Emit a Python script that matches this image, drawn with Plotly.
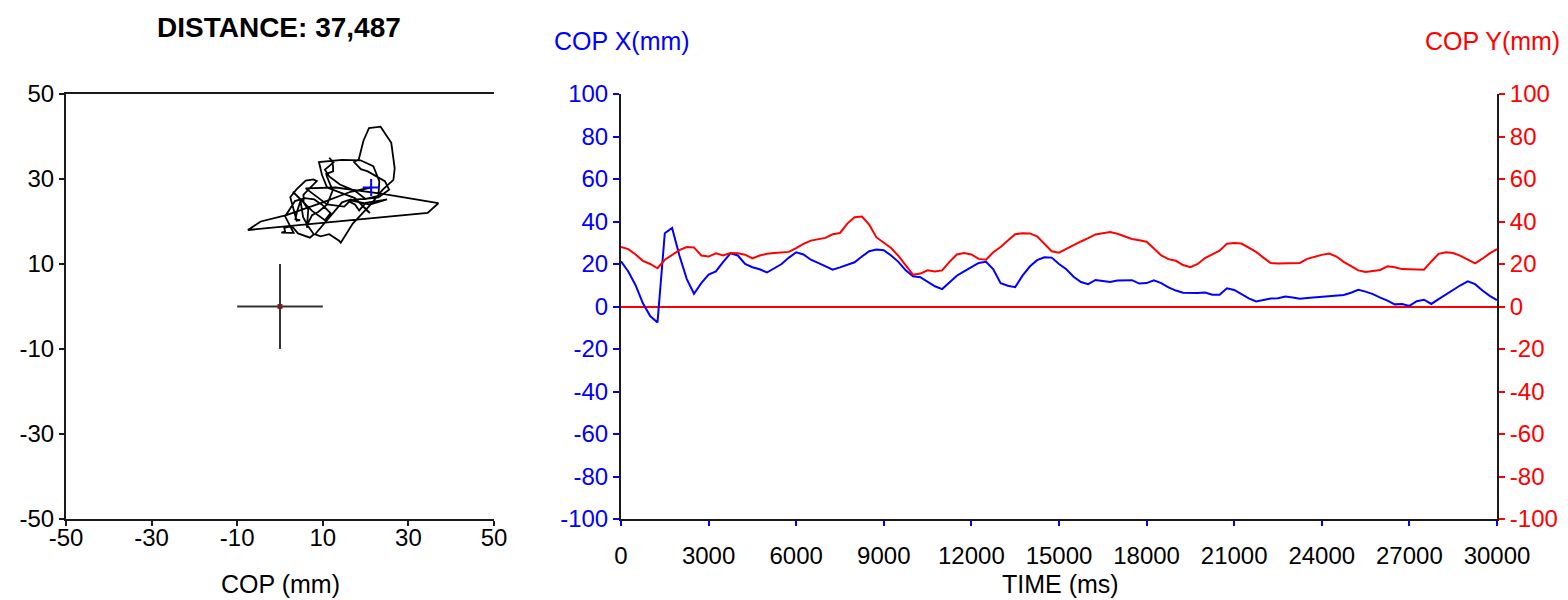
import numpy as np
import plotly.graph_objects as go

# Centre-of-pressure recording, one sample every 250 ms
time_ms = np.arange(0, 30001, 250)

cop_x_mm = [
    21.3, 16.5, 10.0, 1.5, -4.5, -7.5, 34.5, 37.0, 24.0, 13.0,
    6.0, 11.0, 15.0, 16.5, 21.0, 25.0, 24.0, 20.0, 18.5, 17.5,
    16.0, 17.8, 20.0, 23.0, 25.5, 24.5, 22.0, 20.5, 18.9, 17.3,
    18.4, 19.5, 20.8, 23.5, 26.0, 26.8, 26.5, 24.0, 21.0, 17.0,
    14.2, 13.8, 11.5, 9.5, 8.2, 11.5, 14.5, 16.5, 18.5, 20.5,
    21.0, 17.5, 11.0, 9.8, 9.1, 14.5, 18.8, 21.8, 23.2, 23.0,
    20.0, 17.5, 14.0, 11.5, 10.5, 12.5, 12.0, 11.5, 12.2, 12.4,
    12.4, 10.8, 11.0, 12.3, 11.0, 9.0, 7.5, 6.5, 6.3, 6.4,
    6.6, 5.5, 5.5, 8.6, 7.8, 6.0, 3.8, 2.4, 3.2, 3.8,
    3.9, 4.7, 4.2, 3.6, 4.0, 4.3, 4.5, 4.8, 5.0, 5.4,
    6.5, 7.9, 7.0, 5.8, 4.2, 2.8, 1.0, 1.2, 0.3, 2.5,
    3.2, 1.2, 3.5, 5.8, 8.0, 10.0, 11.8, 10.5, 7.5, 5.0,
    3.0,
]

cop_y_mm = [
    28.0, 27.0, 24.5, 21.5, 20.0, 18.0, 22.0, 24.3, 26.5, 28.0,
    27.8, 24.0, 23.5, 25.0, 24.0, 25.2, 25.0, 24.4, 22.6, 24.0,
    24.8, 25.2, 25.3, 25.7, 27.5, 29.5, 31.0, 31.8, 32.3, 34.0,
    34.6, 39.0, 42.0, 42.3, 38.5, 32.5, 29.8, 27.5, 23.8, 19.5,
    15.0, 15.5, 17.0, 16.5, 17.0, 21.0, 24.5, 25.2, 24.5, 22.4,
    22.0, 25.5, 28.0, 31.0, 34.0, 34.5, 34.4, 33.0, 29.5, 26.0,
    25.3, 27.2, 28.7, 30.6, 32.2, 33.9, 34.5, 35.0, 34.2, 33.0,
    31.8, 31.2, 30.5, 27.3, 24.0, 22.3, 21.5, 19.5, 18.5, 20.0,
    22.8, 24.5, 26.3, 29.5, 29.9, 29.6, 27.5, 25.7, 23.0, 20.5,
    20.2, 20.3, 20.4, 20.5, 22.4, 23.5, 24.3, 24.9, 23.5, 21.0,
    19.0, 17.0, 16.2, 16.6, 17.2, 18.9, 18.5, 17.6, 17.4, 17.3,
    17.3, 21.2, 24.8, 25.5, 25.2, 23.8, 22.0, 20.3, 22.5, 25.0,
    27.0,
]

distance_label = "37,487"
target_center = (0, 0)
target_half = 10

plane_ticks = [-50, -30, -10, 10, 30, 50]
time_ticks = list(range(0, 30001, 3000))
cop_ticks = list(range(-100, 101, 20))

W, H = 1568, 600
FONT = "Liberation Sans, Arial, sans-serif"
AXIS_COLOR = "#1a1a1a"


def fx(p):
    return p / W


def fy(p):
    return 1 - p / H


def labels(vals):
    # plain ASCII hyphen for negatives, no thousands grouping
    return [str(v) for v in vals]


left_dom = [fx(66), fx(494)]
right_dom = [fx(621), fx(1497)]
y_dom = [fy(519), fy(94)]

fig = go.Figure()

# Stabilogram: COP X against COP Y
fig.add_trace(go.Scatter(
    x=cop_x_mm, y=cop_y_mm, mode="lines",
    line=dict(color="black", width=1.8),
    xaxis="x", yaxis="y", showlegend=False,
))
# starting position
fig.add_trace(go.Scatter(
    x=[cop_x_mm[0]], y=[cop_y_mm[0]], mode="markers",
    marker=dict(symbol="cross-thin", size=12, line=dict(color="blue", width=2)),
    xaxis="x", yaxis="y", showlegend=False,
))

# Target crosshair
cx, cy = target_center
fig.add_shape(type="line", xref="x", yref="y",
              x0=cx - target_half, x1=cx + target_half, y0=cy, y1=cy,
              line=dict(color="#333333", width=2))
fig.add_shape(type="line", xref="x", yref="y",
              x0=cx, x1=cx, y0=cy - target_half, y1=cy + target_half,
              line=dict(color="#333333", width=2))
fig.add_trace(go.Scatter(
    x=[cx], y=[cy], mode="markers",
    marker=dict(symbol="square", size=5, color="red"),
    xaxis="x", yaxis="y", showlegend=False,
))

# Time series
fig.add_trace(go.Scatter(
    x=time_ms, y=cop_x_mm, mode="lines", line=dict(color="#0000ff", width=2),
    xaxis="x2", yaxis="y3", showlegend=False,
))
fig.add_trace(go.Scatter(
    x=time_ms, y=cop_y_mm, mode="lines", line=dict(color="#ff0000", width=2),
    xaxis="x2", yaxis="y4", showlegend=False,
))

tick_font = dict(family=FONT, size=24, color="black")
common = dict(showgrid=False, automargin=False, showline=True,
              linecolor=AXIS_COLOR, linewidth=2, tickwidth=2)

fig.update_layout(
    width=W, height=H,
    margin=dict(l=0, r=0, t=0, b=0),
    paper_bgcolor="white", plot_bgcolor="white",
    font=dict(family=FONT, size=24, color="black"),
    xaxis=dict(
        domain=left_dom, anchor="y", range=[-50, 50],
        tickvals=plane_ticks, ticktext=labels(plane_ticks),
        ticks="outside", ticklen=5, tickcolor=AXIS_COLOR,
        mirror=True, zeroline=False, tickfont=tick_font,
        ticklabelstandoff=-9, **common,
    ),
    yaxis=dict(
        domain=y_dom, anchor="x", range=[-50, 50],
        tickvals=plane_ticks, ticktext=labels(plane_ticks),
        ticks="outside", ticklen=5, tickcolor=AXIS_COLOR,
        zeroline=False, tickfont=tick_font, **common,
    ),
    yaxis2=dict(
        overlaying="y", anchor="x", side="right", range=[-50, 50],
        tickvals=plane_ticks, ticktext=labels(plane_ticks),
        ticks="outside", ticklen=5, tickcolor=AXIS_COLOR,
        zeroline=False, tickfont=tick_font, **common,
    ),
    xaxis2=dict(
        domain=right_dom, anchor="y3", range=[0, 30000],
        tickvals=time_ticks, ticktext=labels(time_ticks),
        ticks="outside", ticklen=5, tickcolor="blue",
        zeroline=False, tickfont=tick_font, ticklabelstandoff=9, **common,
    ),
    yaxis3=dict(
        domain=y_dom, anchor="x2", range=[-100, 100],
        tickvals=cop_ticks, ticktext=labels(cop_ticks),
        ticks="outside", ticklen=6, tickcolor="blue",
        zeroline=True, zerolinecolor="red", zerolinewidth=2,
        tickfont=dict(family=FONT, size=24, color="blue"), **common,
    ),
    yaxis4=dict(
        overlaying="y3", anchor="x2", side="right", range=[-100, 100],
        tickvals=cop_ticks, ticktext=labels(cop_ticks),
        ticks="outside", ticklen=6, tickcolor="red",
        zeroline=False,
        tickfont=dict(family=FONT, size=24, color="red"), **common,
    ),
)

annotations = [
    dict(text=f"<b>DISTANCE: {distance_label}</b>", x=fx(279), y=fy(27),
         xanchor="center", yanchor="middle", font=dict(family=FONT, size=28, color="black")),
    dict(text="COP X(mm)", x=fx(622), y=fy(41), xanchor="center", yanchor="middle",
         font=dict(family=FONT, size=25, color="blue")),
    dict(text="COP Y(mm)", x=fx(1562), y=fy(41), xanchor="right", yanchor="middle",
         font=dict(family=FONT, size=25, color="red")),
    dict(text="COP (mm)", x=fx(280), y=fy(584), xanchor="center", yanchor="middle",
         font=dict(family=FONT, size=25, color="black")),
    dict(text="TIME (ms)", x=fx(1060), y=fy(584), xanchor="center", yanchor="middle",
         font=dict(family=FONT, size=25, color="black")),
]
for a in annotations:
    a.update(xref="paper", yref="paper", showarrow=False)
fig.update_layout(annotations=annotations)

fig.write_html("out.html")
